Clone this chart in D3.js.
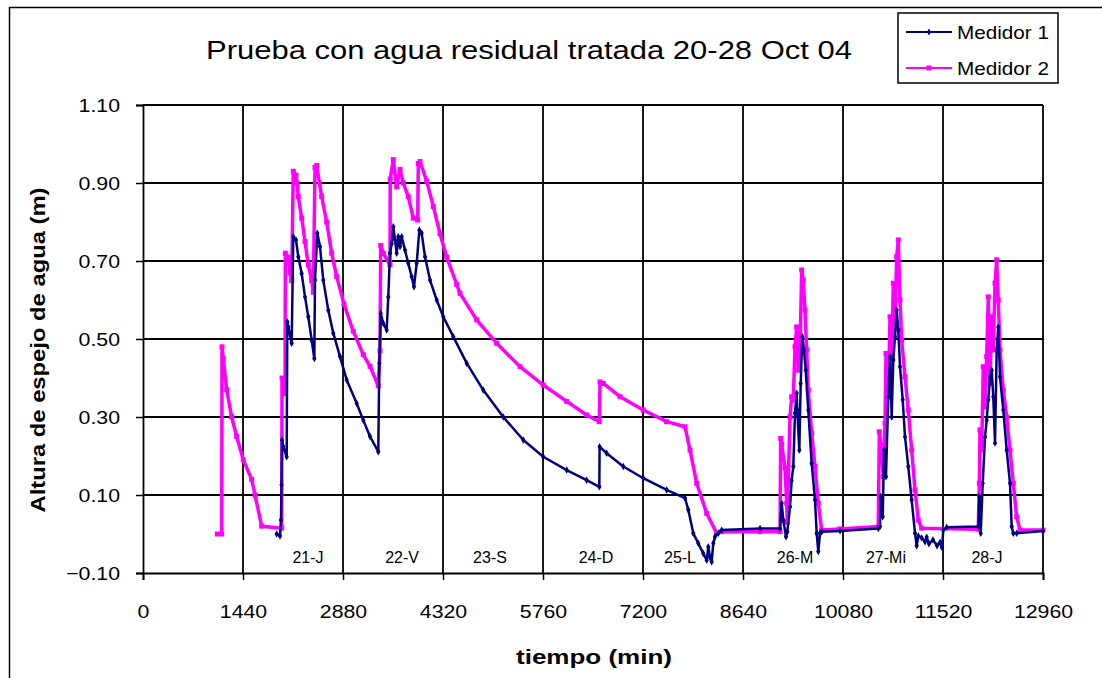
<!DOCTYPE html>
<html>
<head>
<meta charset="utf-8">
<script src="https://cdn.jsdelivr.net/npm/d3@7"></script>
<style>
  body { margin: 0; background: #fff; }
  text { font-family: "Liberation Sans", Arial, sans-serif; fill: #000; }
</style>
</head>
<body>
<div id="chart"></div>
<script>
var title = "Prueba con agua residual tratada 20-28 Oct 04";
var xTitle = "tiempo (min)";
var yTitle = "Altura de espejo de agua (m)";
var seriesNames = ["Medidor 1", "Medidor 2"];
var xTicks = [0, 1440, 2880, 4320, 5760, 7200, 8640, 10080, 11520, 12960];
var yTicks = [-0.10, 0.10, 0.30, 0.50, 0.70, 0.90, 1.10];
var dayNames = ["21-J", "22-V", "23-S", "24-D", "25-L", "26-M", "27-Mi", "28-J"];
var dayTimes = [2376, 3730, 4997, 6523, 7733, 9389, 10699, 12154];

// Medidor 1 (min, m)
var m1Time = [1925, 1973, 1987, 1995, 2002, 2020, 2069, 2078, 2092, 2141, 2164, 2203, 2236, 2285, 2333, 2380, 2429, 2467,
  2477, 2510, 2549, 2596, 2668, 2740, 2837, 2933, 3077, 3172, 3269, 3388, 3403, 3423, 3460, 3509, 3532, 3557, 3581,
  3604, 3629, 3653, 3676, 3701, 3725, 3773, 3820, 3869, 3902, 3941, 3979, 4013, 4061, 4133, 4229, 4324, 4468, 4661,
  4900, 5188, 5476, 5764, 6101, 6389, 6571, 6575, 6677, 6916, 7204, 7541, 7805, 7852, 7924, 7996, 8068, 8117, 8140,
  8165, 8189, 8212, 8237, 8284, 8333, 8885, 9173, 9197, 9220, 9259, 9278, 9317, 9341, 9364, 9389, 9413, 9422, 9451,
  9471, 9494, 9518, 9543, 9580, 9629, 9677, 9701, 9724, 9749, 9773, 10037, 10588, 10613, 10623, 10652, 10670, 10699,
  10732, 10757, 10781, 10804, 10829, 10853, 10876, 10901, 10940, 10973, 11020, 11069, 11117, 11141, 11164, 11213,
  11261, 11285, 11318, 11376, 11434, 11477, 11506, 11524, 11573, 12028, 12043, 12063, 12092, 12125, 12149, 12172,
  12197, 12221, 12244, 12269, 12293, 12316, 12341, 12388, 12437, 12485, 12509, 12532, 12581, 12960];
var m1Level = [0.00, -0.005, 0.036, 0.126, 0.241, 0.224, 0.198, 0.544, 0.531, 0.489, 0.762, 0.754, 0.711, 0.668, 0.608, 0.557, 0.497, 0.45,
  0.651, 0.771, 0.737, 0.651, 0.574, 0.515, 0.455, 0.395, 0.335, 0.292, 0.25, 0.211, 0.438, 0.566, 0.54, 0.523, 0.608, 0.72, 0.745,
  0.788, 0.754, 0.72, 0.762, 0.737, 0.762, 0.728, 0.694, 0.66, 0.634, 0.694, 0.779, 0.771, 0.711, 0.651, 0.60, 0.557, 0.506, 0.438,
  0.369, 0.30, 0.241, 0.198, 0.164, 0.138, 0.121, 0.224, 0.207, 0.173, 0.143, 0.113, 0.092, 0.062, 0.002, -0.024, -0.05, -0.067, -0.033,
  -0.06, -0.071, -0.024, -0.007, 0.002, 0.01, 0.014, 0.014, 0.079, 0.036, -0.007, 0.006, 0.07, 0.138, 0.173, 0.31, 0.361, 0.318, 0.215,
  0.386, 0.506, 0.472, 0.42, 0.318, 0.181, 0.087, 0.002, -0.045, 0.002, 0.006, 0.008, 0.014, 0.019, 0.096, 0.044, 0.215, 0.147,
  0.352, 0.455, 0.30, 0.446, 0.506, 0.574, 0.523, 0.429, 0.344, 0.249, 0.173, 0.087, 0.002, -0.03, -0.005, -0.01,
  -0.02, -0.008, -0.025, -0.015, -0.03, -0.022, -0.035, 0.01, 0.017, 0.019, 0.096, 0.002, 0.13, 0.249, 0.292, 0.344,
  0.403, 0.42, 0.352, 0.233, 0.472, 0.531, 0.403, 0.318, 0.215, 0.13, 0.019, 0.002, 0.002, 0.008];

// Medidor 2 (min, m)
var m2Time = [1070, 1133, 1138, 1156, 1205, 1277, 1349, 1444, 1565, 1613, 1709, 1997, 2002, 2020, 2045, 2050, 2092, 2117,
  2141, 2164, 2203, 2218, 2236, 2285, 2333, 2380, 2429, 2452, 2477, 2501, 2573, 2645, 2717, 2789, 2894, 3028, 3172,
  3269, 3388, 3413, 3423, 3460, 3557, 3560, 3604, 3653, 3701, 3748, 3820, 3892, 3956, 3964, 3989, 4085, 4180, 4277,
  4373, 4517, 4565, 4805, 5093, 5429, 5764, 6101, 6389, 6571, 6581, 6628, 6869, 7204, 7541, 7805, 7877, 7973, 8117,
  8261, 8333, 8885, 9173, 9183, 9197, 9245, 9269, 9278, 9292, 9317, 9341, 9364, 9389, 9413, 9436, 9461, 9485, 9508,
  9533, 9557, 9580, 9629, 9677, 9724, 9773, 10037, 10588, 10603, 10637, 10660, 10685, 10699, 10732, 10757, 10781,
  10804, 10829, 10853, 10876, 10901, 10925, 10973, 11020, 11069, 11117, 11164, 11213, 12028, 12043, 12053, 12077,
  12100, 12125, 12149, 12172, 12197, 12221, 12244, 12269, 12293, 12316, 12341, 12388, 12437, 12485, 12532, 12581,
  12629, 12960];
var m2Level = [0.00, 0.00, 0.48, 0.45, 0.37, 0.30, 0.25, 0.19, 0.14, 0.10, 0.02, 0.015, 0.40, 0.38, 0.36, 0.72, 0.71, 0.67,
  0.65, 0.93, 0.92, 0.90, 0.865, 0.81, 0.75, 0.69, 0.65, 0.62, 0.94, 0.945, 0.865, 0.80, 0.72, 0.66, 0.59, 0.52, 0.46,
  0.43, 0.38, 0.47, 0.74, 0.72, 0.69, 0.91, 0.96, 0.89, 0.935, 0.90, 0.865, 0.81, 0.805, 0.95, 0.955, 0.905, 0.84, 0.77,
  0.71, 0.64, 0.617, 0.549, 0.489, 0.429, 0.382, 0.34, 0.305, 0.288, 0.39, 0.386, 0.352, 0.318, 0.288, 0.275, 0.215, 0.13, 0.053,
  0.002, 0.006, 0.006, 0.006, 0.245, 0.23, 0.17, 0.079, 0.03, 0.138, 0.30, 0.352, 0.344, 0.48, 0.531, 0.42, 0.472, 0.677, 0.651,
  0.574, 0.472, 0.369, 0.258, 0.173, 0.079, 0.01, 0.013, 0.019, 0.262, 0.215, 0.147, 0.284, 0.463, 0.352, 0.557, 0.429,
  0.643, 0.54, 0.711, 0.754, 0.60, 0.497, 0.403, 0.318, 0.215, 0.113, 0.036, 0.015, 0.012, 0.13, 0.267, 0.215,
  0.429, 0.326, 0.455, 0.608, 0.386, 0.557, 0.472, 0.643, 0.703, 0.60, 0.472, 0.369, 0.30, 0.215, 0.13, 0.044,
  0.01, 0.01];

var width = 1102, height = 678;
var svg = d3.select("#chart").append("svg")
  .attr("width", width)
  .attr("height", height);

// outer chart frame (runs off the right/bottom edge)
svg.append("rect")
  .attr("x", 9.5).attr("y", 7.5)
  .attr("width", 1300).attr("height", 900)
  .style("fill", "#fff").style("stroke", "#000").style("stroke-width", 1.5);

var x = d3.scaleLinear().domain([0, 12960]).range([143, 1043]);
var y = d3.scaleLinear().domain([-0.1, 1.1]).range([573, 105]);

// grid
svg.append("g").selectAll("line.v")
  .data(xTicks.slice(1))
  .enter().append("line")
  .attr("x1", d => x(d)).attr("x2", d => x(d))
  .attr("y1", y(1.1)).attr("y2", y(-0.1))
  .style("stroke", "#000").style("stroke-width", 1.8);

svg.append("g").selectAll("line.h")
  .data(yTicks.slice(1))
  .enter().append("line")
  .attr("x1", x(0)).attr("x2", x(12960))
  .attr("y1", d => y(d)).attr("y2", d => y(d))
  .style("stroke", "#000").style("stroke-width", 1.8);

// axes
var yAxis = svg.append("g")
  .attr("transform", "translate(" + x(0) + ",0)")
  .call(d3.axisLeft(y).tickValues(yTicks).tickFormat(d3.format(".2f")).tickSize(7).tickPadding(16));
var xAxis = svg.append("g")
  .attr("transform", "translate(0," + y(-0.1) + ")")
  .call(d3.axisBottom(x).tickValues(xTicks).tickFormat(d3.format("d")).tickSize(7).tickPadding(25));

[yAxis, xAxis].forEach(function(a) {
  a.select(".domain").style("stroke", "#000").style("stroke-width", 1.8);
  a.selectAll(".tick line").style("stroke", "#000").style("stroke-width", 1.5);
  a.selectAll(".tick text")
    .style("font-size", "19px")
    .style("font-family", "'Liberation Sans', Arial, sans-serif")
    .each(function() {
      // the original renders its labels a little wider than Arial
      var w = this.getComputedTextLength();
      d3.select(this).attr("textLength", w * 1.12).attr("lengthAdjust", "spacingAndGlyphs");
    });
});

// day labels
svg.append("g").selectAll("text")
  .data(dayNames)
  .enter().append("text")
  .attr("x", (d, i) => x(dayTimes[i]))
  .attr("y", y(-0.074))
  .style("text-anchor", "middle")
  .style("font-size", "16px")
  .text(d => d);

// series
var m1 = m1Time.map((t, i) => [t, m1Level[i]]);
var m2 = m2Time.map((t, i) => [t, m2Level[i]]);

var line = d3.line().x(d => x(d[0])).y(d => y(d[1]));

svg.append("path").datum(m2).attr("d", line)
  .style("fill", "none").style("stroke", "#ff00ff").style("stroke-width", 3.5)
  .style("stroke-linejoin", "round");
svg.append("g").selectAll("rect")
  .data(m2).enter().append("rect")
  .attr("x", d => x(d[0]) - 2.5).attr("y", d => y(d[1]) - 2.5)
  .attr("width", 5).attr("height", 5)
  .style("fill", "#ff00ff");

svg.append("path").datum(m1).attr("d", line)
  .style("fill", "none").style("stroke", "#000080").style("stroke-width", 2.5)
  .style("stroke-linejoin", "round");
svg.append("g").selectAll("path")
  .data(m1).enter().append("path")
  .attr("transform", d => "translate(" + x(d[0]) + "," + y(d[1]) + ")")
  .attr("d", d3.symbol(d3.symbolDiamond, 16))
  .style("fill", "#000080");

// titles
svg.append("text")
  .attr("x", 529).attr("y", 59)
  .attr("textLength", 646).attr("lengthAdjust", "spacingAndGlyphs")
  .style("text-anchor", "middle").style("font-size", "26px")
  .text(title);

svg.append("text")
  .attr("x", 594).attr("y", 664)
  .attr("textLength", 156).attr("lengthAdjust", "spacingAndGlyphs")
  .style("text-anchor", "middle").style("font-size", "21px").style("font-weight", "bold")
  .text(xTitle);

svg.append("text")
  .attr("transform", "translate(45,350) rotate(-90)")
  .attr("textLength", 325).attr("lengthAdjust", "spacingAndGlyphs")
  .style("text-anchor", "middle").style("font-size", "21px").style("font-weight", "bold")
  .text(yTitle);

// legend
var legend = svg.append("g").attr("transform", "translate(898,13)");
legend.append("rect")
  .attr("width", 160).attr("height", 70)
  .style("fill", "#fff").style("stroke", "#000").style("stroke-width", 1.5);
var colors = ["#000080", "#ff00ff"];
seriesNames.forEach(function(name, i) {
  var ly = 19 + i * 36;
  legend.append("line")
    .attr("x1", 8).attr("x2", 54).attr("y1", ly).attr("y2", ly)
    .style("stroke", colors[i]).style("stroke-width", 2);
  if (i === 0) {
    legend.append("path").attr("transform", "translate(31," + ly + ")")
      .attr("d", d3.symbol(d3.symbolDiamond, 14)).style("fill", colors[i]);
  } else {
    legend.append("rect").attr("x", 28.5).attr("y", ly - 2.5)
      .attr("width", 5).attr("height", 5).style("fill", colors[i]);
  }
  legend.append("text")
    .attr("x", 59).attr("y", ly + 7)
    .attr("textLength", 92).attr("lengthAdjust", "spacingAndGlyphs")
    .style("font-size", "19px")
    .text(name);
});
</script>
</body>
</html>
